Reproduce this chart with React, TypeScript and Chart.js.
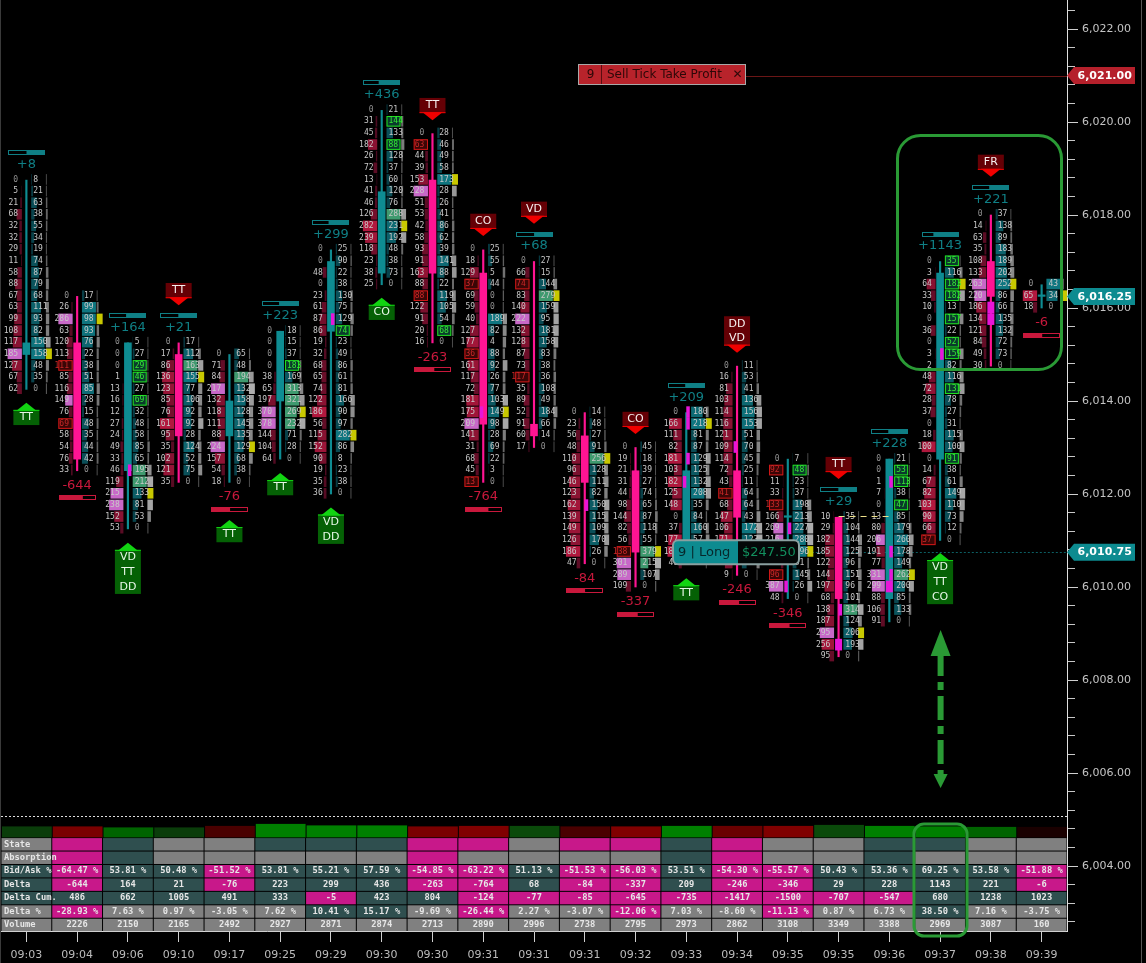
import React, { useEffect, useRef } from "react";
import { Chart, registerables } from "chart.js";
Chart.register(...registerables);

const times = ["09:03","09:04","09:06","09:10","09:17","09:25","09:29","09:30","09:30","09:31","09:31","09:31","09:32","09:33","09:34","09:35","09:35","09:36","09:37","09:38","09:39"];
const topPrices = [6018.75,6016.25,6015.25,6015.25,6015,6015.5,6017.25,6020.25,6019.75,6017.25,6017,6013.75,6013,6013.75,6014.75,6012.75,6011.5,6012.75,6017,6018,6016.5];
const bids: number[][] = [
 [0,5,21,68,32,32,29,11,58,88,67,63,99,108,117,185,127,67,62],
 [0,26,286,63,120,113,111,85,116,149,76,69,58,54,76,33],
 [0,0,0,1,13,16,12,27,24,49,33,46,119,215,238,152,53],
 [0,17,86,136,123,85,76,161,95,35,102,121,35],
 [0,71,84,217,132,118,111,88,224,157,54,18],
 [0,0,0,0,38,65,197,370,378,144,104,64],
 [0,0,48,0,23,61,87,86,19,32,68,65,74,122,186,56,115,152,90,19,35,36],
 [0,31,45,182,26,72,13,41,46,126,282,239,118,23,38,25],
 [0,63,44,39,153,228,51,53,42,58,93,91,163,88,88,122,91,20,16],
 [0,18,129,37,69,59,40,127,177,36,161,117,72,181,175,209,141,31,68,45,13],
 [0,66,74,83,140,222,132,128,87,73,117,35,89,52,91,60,17],
 [0,23,56,48,110,96,146,123,162,139,149,126,186,47],
 [0,19,21,31,44,98,144,82,56,138,301,289,109],
 [0,166,111,82,181,103,182,125,148,0,37,177,187,40],
 [0,16,81,103,114,116,121,109,114,72,43,41,68,147,106,171,180,96,9],
 [0,92,11,33,133,166,269,216,210,65,96,387,48],
 [10,29,182,185,122,144,197,68,138,187,295,256,95],
 [0,0,1,7,0,13,80,206,191,77,331,299,88,106,91],
 [0,3,64,33,10,0,36,0,3,2,48,72,28,37,0,18,100,0,14,67,82,103,90,66,37],
 [0,14,63,35,108,133,263,220,186,134,121,84,49,30],
 [0,65,18],
];
const asks: number[][] = [
 [8,21,63,38,55,34,19,74,87,79,68,111,93,82,150,158,48,35,0],
 [17,99,98,93,76,22,38,51,85,28,15,48,35,44,42,0],
 [5,27,29,46,27,69,32,48,58,85,65,195,212,133,81,53,0],
 [17,112,163,155,77,106,92,92,28,124,52,75,0],
 [65,48,194,132,158,128,145,135,129,68,38,0],
 [18,15,37,183,169,313,321,269,232,71,28,0],
 [25,90,22,38,130,75,129,74,23,49,86,61,81,166,90,97,282,86,8,23,38,0],
 [21,144,133,88,128,37,60,120,76,288,231,192,48,38,73,0],
 [28,46,49,58,173,28,26,41,86,62,39,141,88,22,119,105,54,68,0],
 [25,55,5,44,0,0,189,82,4,88,92,26,77,103,149,98,28,69,22,3,0],
 [27,15,144,279,159,95,181,158,83,38,36,108,49,184,66,14,0],
 [14,48,27,91,256,128,111,82,150,115,109,170,26,0],
 [45,18,39,27,74,65,87,118,55,379,215,107,0],
 [180,218,81,87,129,125,132,208,35,84,160,57,21,0],
 [11,53,41,136,156,153,51,70,45,25,11,64,64,43,172,123,120,58,0],
 [7,48,23,37,198,213,227,280,296,81,145,26,0],
 [35,104,144,125,96,151,96,101,314,124,206,193,0],
 [21,53,113,38,47,85,179,260,178,149,262,200,85,133,0],
 [35,116,183,182,13,157,22,52,159,82,116,131,78,27,31,115,100,91,38,61,149,110,73,12,0],
 [37,138,89,183,189,202,252,86,66,135,132,72,73,0],
 [43,34,0],
];
const opens = [6015,6015.25,6012.5,6015,6013.25,6014,6015.5,6016.75,6018.75,6016.75,6013.5,6013.25,6012.5,6010.75,6012.5,6011.5,6011.5,6009.75,6012.75,6017,6016.25];
const closes = [6015.25,6012.75,6015.25,6013.25,6014,6015.5,6017,6018.5,6016.75,6013.5,6013.25,6012.25,6010.75,6012.5,6011.5,6011.5,6009.75,6012.75,6016.75,6016.25,6016.25];
const deltas = [8,-644,164,21,-76,223,299,436,-263,-764,68,-84,-337,209,-246,-346,29,228,1143,221,-6];
const bidAskPct = [50,-64.47,53.81,50.48,-51.52,53.81,55.21,57.59,-54.85,-63.22,51.13,-51.53,-56.03,53.51,-54.30,-55.57,50.43,53.36,69.25,53.58,-51.88];
const bidPeaks: number[][] = [[185],[286,149],[215,238],[],[217,224],[370,378],[],[],[228],[209],[222],[],[301,289],[],[],[269,216,387],[295],[206,331,299],[],[263,220],[]];
const askPeaks: number[][] = [[],[],[195,212],[163],[194],[313,321,269,232],[],[288],[],[],[279],[256],[379,215],[],[],[],[314],[262],[],[],[]];
const bidBoxRows: number[][] = [[],[6,11],[],[],[],[],[],[],[1,14],[3,9,20],[2,10],[],[9],[],[11],[1,4,10],[],[],[24],[],[]];
const askBoxRows: number[][] = [[],[],[2,3,5],[],[],[3],[7],[1,3],[17],[],[],[],[],[],[],[1],[],[1,2,4],[0,2,3,5,7,8,11,17],[],[]];
const accents: [number, number, string][] = [[2,6012.5,"R"],[6,6015.75,"R"],[9,6013.75,"L"],[11,6011.75,"R"],[13,6013.75,"R"],[13,6013.5,"R"],[13,6012.75,"R"],[13,6012.25,"L"],[14,6013,"L"],[15,6011.25,"R"],[15,6010,"L"],[16,6009.5,"R"],[16,6008.75,"F"],[17,6012.25,"R"],[17,6010.75,"R"],[17,6010.25,"R"],[17,6010,"F"],[18,6015,"R"],[19,6016,"F"],[19,6015.75,"F"]];
const signals: [number, number, string, string[]][] = [
 [0,6013.96,"up",["TT"]],[2,6010.95,"up",["VD","TT","DD"]],[3,6016.06,"down",["TT"]],[4,6011.44,"up",["TT"]],[5,6012.45,"up",["TT"]],[6,6011.71,"up",["VD","DD"]],[7,6016.22,"up",["CO"]],[8,6020.04,"down",["TT"]],[9,6017.55,"down",["CO"]],[10,6017.81,"down",["VD"]],[12,6013.29,"down",["CO"]],[13,6010.19,"up",["TT"]],[14,6015.04,"down",["DD","VD"]],[16,6012.32,"down",["TT"]],[18,6010.73,"up",["VD","TT","CO"]],[19,6018.82,"down",["FR"]],
];
const rowLabels = ["State","Absorption","Bid/Ask %","Delta","Delta Cum.","Delta %","Volume"];
const blankRow = times.map(() => "");
const stateTone = "gpsggsssppgppspggssgg";
const absorbTone = "gpsgggggpggggspggsggg";
const bidAskText = ["","-64.47 %","53.81 %","50.48 %","-51.52 %","53.81 %","55.21 %","57.59 %","-54.85 %","-63.22 %","51.13 %","-51.53 %","-56.03 %","53.51 %","-54.30 %","-55.57 %","50.43 %","53.36 %","69.25 %","53.58 %","-51.88 %"];
const deltaText = ["","-644","164","21","-76","223","299","436","-263","-764","68","-84","-337","209","-246","-346","29","228","1143","221","-6"];
const deltaCum = ["","486","662","1005","491","333","-5","423","804","-124","-77","-85","-645","-735","-1417","-1500","-707","-547","680","1238","1023"];
const deltaPct = ["","-28.93 %","7.63 %","0.97 %","-3.05 %","7.62 %","10.41 %","15.17 %","-9.69 %","-26.44 %","2.27 %","-3.07 %","-12.06 %","7.03 %","-8.60 %","-11.13 %","0.87 %","6.73 %","38.50 %","7.16 %","-3.75 %"];
const volumes = ["","2226","2150","2165","2492","2927","2871","2874","2713","2890","2996","2738","2795","2973","2862","3108","3349","3388","2969","3087","160"];
const stripHeights = [11,11,10,10,11.5,13.5,12,12,11,11.5,11.5,11,11,11.5,11.5,11.5,12.5,11.5,11,10.5,10.5];
const stripColors = ["#0a3d0a","#7a0000","#006400","#0a3d0a","#4a0000","#008000","#008000","#008000","#7a0000","#800000","#0a4a0a","#4a0000","#800000","#008000","#6a0000","#800000","#0a4a0a","#008000","#008000","#006400","#1a0000"];
const priceTags: [number, string][] = [[6021, "#b5202b"],[6016.25, "#0d8b90"],[6010.75, "#0d8b90"]];
const yTickIndices = Array.from({ length: 50 }, (_, i) => 15007 + i);

const TEAL = "#0e8c92", PINK = "#ff1493", MAGENTA = "#e815d8", RED = "#c8183c";
const lerp = (a: number[], b: number[], t: number) => `rgb(${a.map((v, i) => Math.round(v + (b[i] - v) * t)).join(",")})`;
const toneColor = (c: string) => (c === "p" ? "#c8188a" : c === "s" ? "#2f4f4f" : "#808080");
const signTone = (col: string[]) => col.map((t) => (t.startsWith("-") ? "p" : "s")).join("");
const pctTone = deltaPct.map((t) => { const v = parseFloat(t); return !(Math.abs(v) >= 10) ? "g" : v < 0 ? "p" : "s"; }).join("");
const allGray = times.map(() => "g").join("");

function arrowHead(ctx: CanvasRenderingContext2D, x: number, tip: number, base: number, half: number) {
  ctx.beginPath(); ctx.moveTo(x, tip); ctx.lineTo(x + half, base); ctx.lineTo(x - half, base); ctx.closePath(); ctx.fill();
}

const overlay = {
  id: "footprint",
  beforeDraw(chart: any) {
    const { ctx, width, height } = chart;
    ctx.save();
    ctx.fillStyle = "#000"; ctx.fillRect(0, 0, width, height);
    ctx.fillStyle = "#3a3a3a"; ctx.fillRect(0, 0, 1, height);
    ctx.fillStyle = "#555"; ctx.fillRect(1141, 0, 1, height);
    ctx.restore();
  },
  beforeDatasetsDraw(chart: any) {
    const { ctx, scales: { x, y }, chartArea } = chart;
    ctx.save();
    ctx.strokeStyle = "#6b1616"; ctx.lineWidth = 1;
    ctx.beginPath(); ctx.moveTo(746, Math.round(y.getPixelForValue(6021)) + 0.5); ctx.lineTo(chartArea.right, Math.round(y.getPixelForValue(6021)) + 0.5); ctx.stroke();
    ctx.strokeStyle = "#0c5f63"; ctx.setLineDash([2, 2]);
    const yl = Math.round(y.getPixelForValue(6010.75)) + 0.5;
    ctx.beginPath(); ctx.moveTo(x.getPixelForValue(15), yl); ctx.lineTo(chartArea.right, yl); ctx.stroke();
    ctx.setLineDash([]);
    ctx.textBaseline = "middle";
    ctx.font = '8px "DejaVu Sans Mono"';
    const rowH = Math.abs(y.getPixelForValue(6000) - y.getPixelForValue(6000.25));
    bids.forEach((bidRow, i) => {
      const cx = x.getPixelForValue(i);
      const askRow = asks[i];
      const maxB = Math.max(...bidRow), maxA = Math.max(...askRow);
      const totals = bidRow.map((b, r) => b + askRow[r]);
      const maxT = Math.max(...totals);
      bidRow.forEach((b, r) => {
        const a = askRow[r];
        const price = topPrices[i] - r * 0.25;
        const py = y.getPixelForValue(price) - 0.7;
        const top = py - rowH / 2 + 0.5, h = rowH - 1;
        const boxB = bidBoxRows[i].includes(r), boxA = askBoxRows[i].includes(r);
        const t = totals[r];
        const vw = Math.max(1, (t / maxT) * 6);
        ctx.fillStyle = t === maxT ? "#c8c800" : lerp([70, 70, 70], [175, 175, 175], t / maxT);
        ctx.fillRect(cx + 19.5, top, vw, h);
        const bw = (b / maxB) * 14.3;
        if (boxB) {
          ctx.fillStyle = "#3a0606"; ctx.fillRect(cx - 18.8, top, 14.3, h);
          ctx.strokeStyle = "#d01818"; ctx.strokeRect(cx - 18.3, top + 0.5, 13.3, h - 1);
        } else {
          ctx.fillStyle = bidPeaks[i].includes(b) ? "#c868c8" : lerp([64, 8, 28], [178, 24, 62], b / maxB);
          ctx.fillRect(cx - 4.5 - bw, top, bw, h);
        }
        ctx.textAlign = "right";
        ctx.fillStyle = boxB ? "#c82828" : b === 0 ? "#909090" : "#c8c8c8";
        ctx.fillText(String(b), cx - 8.2, py);
        const aw = (a / maxA) * 14;
        if (boxA) {
          ctx.fillStyle = "#0a3a2c"; ctx.fillRect(cx + 4.8, top, 14, h);
          ctx.strokeStyle = "#20e020"; ctx.strokeRect(cx + 5.3, top + 0.5, 13, h - 1);
        } else {
          ctx.fillStyle = askPeaks[i].includes(a) ? "#3f9a6f" : lerp([6, 50, 58], [15, 118, 128], a / maxA);
          ctx.fillRect(cx + 4.8, top, aw, h);
        }
        ctx.textAlign = "left";
        ctx.fillStyle = boxA ? "#35e835" : a === 0 ? "#909090" : "#c8c8c8";
        ctx.fillText(String(a), cx + 6.8, py);
      });
      const positive = deltas[i] >= 0;
      const anchor = y.getPixelForValue(positive ? topPrices[i] : topPrices[i] - (bidRow.length - 1) * 0.25);
      const textY = positive ? anchor - 15.5 : anchor + 14.5;
      const barY = positive ? anchor - 30 : anchor + 24.5;
      const color = positive ? "#0f7f85" : RED;
      ctx.font = '13px "DejaVu Sans"'; ctx.textAlign = "center";
      ctx.fillStyle = color;
      ctx.fillText((positive ? "+" : "") + deltas[i], cx, textY);
      ctx.font = '8px "DejaVu Sans Mono"';
      const fill = Math.abs(bidAskPct[i]) / 100 * 37;
      ctx.strokeStyle = color; ctx.lineWidth = 1;
      ctx.strokeRect(Math.round(cx - 18.5) + 0.5, Math.round(barY) + 0.5, 36, 4);
      ctx.fillStyle = color;
      ctx.fillRect(positive ? Math.round(cx - 18.5) + 37 - fill : Math.round(cx - 18.5), Math.round(barY), fill, 5);
    });
    ctx.restore();
  },
  afterDatasetsDraw(chart: any) {
    const { ctx, scales: { x, y }, chartArea } = chart;
    ctx.save();
    const rowH = Math.abs(y.getPixelForValue(6000) - y.getPixelForValue(6000.25));
    accents.forEach(([i, price, side]) => {
      const cx = x.getPixelForValue(i), py = y.getPixelForValue(price);
      const l = side === "R" ? cx : cx - 3.5, w = side === "F" ? 7 : 3.5;
      ctx.fillStyle = MAGENTA;
      ctx.fillRect(l, py - rowH / 2 - 0.5, w, rowH);
    });
    ctx.strokeStyle = "#eee08a"; ctx.setLineDash([6, 5]); ctx.lineWidth = 1;
    const ys = Math.round(y.getPixelForValue(6011.5)) - 0.5;
    ctx.beginPath(); ctx.moveTo(x.getPixelForValue(16), ys); ctx.lineTo(x.getPixelForValue(17), ys); ctx.stroke();
    ctx.setLineDash([]);
    ctx.textAlign = "center"; ctx.textBaseline = "middle";
    signals.forEach(([i, price, dir, lines]) => {
      const cx = x.getPixelForValue(i), tip = y.getPixelForValue(price);
      const h = lines.length * 14.7 + (lines.length === 1 ? 0.5 : 0);
      const boxTop = dir === "up" ? tip + 7 : tip - 7 - h;
      ctx.fillStyle = dir === "up" ? "#056105" : "#650005";
      ctx.fillRect(cx - 13, boxTop, 26, h);
      ctx.fillStyle = dir === "up" ? "#12d412" : "#f00000";
      if (dir === "up") { arrowHead(ctx, cx, tip, boxTop + 1, 10); ctx.fillRect(cx - 13, boxTop, 26, 1); }
      else { arrowHead(ctx, cx, tip, boxTop + h - 1, 10); ctx.fillRect(cx - 13, boxTop + h - 1, 26, 1); }
      ctx.fillStyle = dir === "up" ? "#e8f8e8" : "#f6f0f0";
      ctx.font = '11px "DejaVu Sans"';
      lines.forEach((t, k) => ctx.fillText(t, cx, boxTop + 7.5 + k * 14.7));
    });
    const tpY = y.getPixelForValue(6021) - 0.5;
    ctx.fillStyle = "#b8232b"; ctx.fillRect(578, tpY - 11, 168, 21);
    ctx.strokeStyle = "#a9a9a9"; ctx.strokeRect(578.5, tpY - 10.5, 167, 20);
    ctx.fillStyle = "#5a0d10"; ctx.fillRect(601, tpY - 10, 1, 19);
    ctx.fillStyle = "#2c0808"; ctx.font = '12px "DejaVu Sans"'; ctx.textAlign = "center";
    ctx.fillText("9", 590.5, tpY - 0.5);
    ctx.textAlign = "left"; ctx.fillText("Sell Tick Take Profit", 607, tpY - 0.5);
    ctx.font = 'bold 12px "DejaVu Sans"'; ctx.textAlign = "center"; ctx.fillText("\u2715", 737.5, tpY - 0.5);
    const lgY = y.getPixelForValue(6010.75);
    ctx.beginPath(); ctx.roundRect(673, lgY - 12, 126, 24, 5); ctx.fillStyle = "#040808"; ctx.fill();
    ctx.save(); ctx.clip(); ctx.fillStyle = "#0d8b90"; ctx.fillRect(673, lgY - 12, 65, 24); ctx.restore();
    ctx.strokeStyle = "#8aa0a0"; ctx.lineWidth = 2; ctx.beginPath(); ctx.roundRect(673, lgY - 12, 126, 24, 5); ctx.stroke();
    ctx.font = '13px "DejaVu Sans"'; ctx.textAlign = "left";
    ctx.fillStyle = "#07272a"; ctx.fillText("9 | Long", 678, lgY);
    ctx.fillStyle = "#12905e"; ctx.fillText("$247.50", 742, lgY);
    const tableTop = 837.6, tableRow = 13.44;
    const columns = [blankRow, blankRow, bidAskText, deltaText, deltaCum, deltaPct, volumes];
    const tones = [stateTone, absorbTone, signTone(bidAskText), signTone(deltaText), signTone(deltaCum), pctTone, allGray];
    const band = (chartArea.right - chartArea.left) / times.length;
    stripHeights.forEach((sh, i) => {
      const l = chartArea.left + i * band;
      ctx.fillStyle = stripColors[i];
      ctx.fillRect(l + 1, 837.4 - sh, band - 1, sh);
    });
    columns.forEach((col, r) => {
      times.forEach((_, i) => {
        const l = chartArea.left + i * band, t = tableTop + r * tableRow;
        ctx.fillStyle = toneColor(tones[r][i]);
        ctx.fillRect(l + 0.5, t + 0.5, band - 1, tableRow - 1);
      });
    });
    ctx.font = 'bold 8.75px "DejaVu Sans Mono"';
    ctx.fillStyle = "#e6e6e6";
    ctx.textAlign = "center";
    columns.forEach((col, r) => {
      times.forEach((_, i) => {
        const t = tableTop + r * tableRow + tableRow / 2;
        if (i === 0) { ctx.textAlign = "left"; ctx.fillText(rowLabels[r], 4, t); ctx.textAlign = "center"; }
        else if (col[i]) ctx.fillText(col[i], x.getPixelForValue(i), t);
      });
    });
    ctx.strokeStyle = "#e0e0e0"; ctx.lineWidth = 1; ctx.setLineDash([2, 2]);
    ctx.beginPath(); ctx.moveTo(chartArea.left, 816.5); ctx.lineTo(chartArea.right, 816.5); ctx.stroke();
    ctx.setLineDash([]);
    ctx.strokeStyle = "#2a9a35"; ctx.lineWidth = 3;
    ctx.beginPath(); ctx.roundRect(897.5, 135.5, 164, 234, 23); ctx.stroke();
    ctx.beginPath(); ctx.roundRect(914, 824, 53, 112, 10); ctx.stroke();
    const ax = x.getPixelForValue(18) + 0.5;
    ctx.fillStyle = "#2a9a35";
    arrowHead(ctx, ax, 630, 656, 10);
    arrowHead(ctx, ax, 788, 774, 7);
    ctx.lineWidth = 6; ctx.setLineDash([24, 6, 8, 6]);
    ctx.beginPath(); ctx.moveTo(ax, 652); ctx.lineTo(ax, 778); ctx.stroke();
    ctx.setLineDash([]);
    ctx.strokeStyle = "#d0d0d0"; ctx.lineWidth = 1;
    y.ticks.forEach((t: any) => {
      if (Math.abs(t.value / 2 - Math.round(t.value / 2)) < 1e-6) {
        const py = Math.round(y.getPixelForValue(t.value)) + 0.5;
        ctx.beginPath(); ctx.moveTo(chartArea.right, py); ctx.lineTo(chartArea.right + 11, py); ctx.stroke();
      }
    });
    priceTags.forEach(([p, c]) => {
      const py = y.getPixelForValue(p), l = chartArea.right;
      ctx.fillStyle = c;
      ctx.beginPath(); ctx.moveTo(l, py); ctx.lineTo(l + 7, py - 8.5); ctx.lineTo(1135, py - 8.5); ctx.lineTo(1135, py + 8.5); ctx.lineTo(l + 7, py + 8.5); ctx.closePath(); ctx.fill();
      ctx.fillStyle = "#fff"; ctx.font = 'bold 11px "DejaVu Sans"'; ctx.textAlign = "left";
      ctx.fillText(p.toLocaleString("en-US", { minimumFractionDigits: 2 }), 1077.5, py + 0.5);
    });
    ctx.restore();
  },
};

export default function App() {
  const ref = useRef<HTMLCanvasElement>(null);
  useEffect(() => {
    document.body.style.margin = "0";
    document.body.style.background = "#000";
    const wicks = topPrices.map((t, i) => [t - (bids[i].length - 1) * 0.25, t]);
    const bodies = opens.map((o, i) => [o, closes[i]]);
    const colors = opens.map((o, i) => (closes[i] >= o ? TEAL : PINK));
    const chart = new Chart(ref.current!, {
      type: "bar",
      data: {
        labels: times,
        datasets: [
          { label: "Body", data: bodies as any, backgroundColor: colors, barThickness: 7, minBarLength: 1.5, grouped: false, order: 1 } as any,
          { label: "Wick", data: wicks as any, backgroundColor: colors, barThickness: 1.5, grouped: false, order: 2 } as any,
        ],
      },
      options: {
        animation: false,
        responsive: false,
        devicePixelRatio: 1,
        layout: { padding: { left: 1, right: 0, top: 0, bottom: 0 } },
        plugins: { legend: { display: false }, tooltip: { enabled: false }, title: { display: false } },
        scales: {
          x: {
            type: "category",
            grid: { display: true, drawOnChartArea: false, offset: false, tickLength: 11, tickColor: "#cfcfcf" },
            border: { color: "#e0e0e0" },
            ticks: { color: "#bcbcbc", font: { family: "DejaVu Sans", size: 11 }, padding: 7, autoSkip: false, maxRotation: 0, minRotation: 0 },
            afterFit: (s: any) => { s.height = 32; s.paddingLeft = 0; s.paddingRight = 0; },
          },
          y: {
            position: "right",
            min: 6002.6022,
            max: 6022.6237,
            grid: { display: true, drawOnChartArea: false, tickLength: 8, tickColor: "#c8c8c8" },
            border: { color: "#e0e0e0" },
            afterBuildTicks: (s: any) => { s.ticks = yTickIndices.map((k) => ({ value: k * 0.4 })); },
            ticks: {
              color: "#c4c4c4",
              font: { family: "DejaVu Sans", size: 11 },
              padding: 7,
              autoSkip: false,
              callback: (v: any) => (Math.abs(v / 2 - Math.round(v / 2)) < 1e-6 ? Math.round(v).toLocaleString("en-US") + ".00" : ""),
            },
            afterFit: (s: any) => { s.width = 79; s.paddingTop = 0; s.paddingBottom = 0; },
          },
        },
      } as any,
      plugins: [overlay],
    });
    return () => chart.destroy();
  }, []);
  return <canvas ref={ref} width={1146} height={963} style={{ display: "block" }} />;
}
